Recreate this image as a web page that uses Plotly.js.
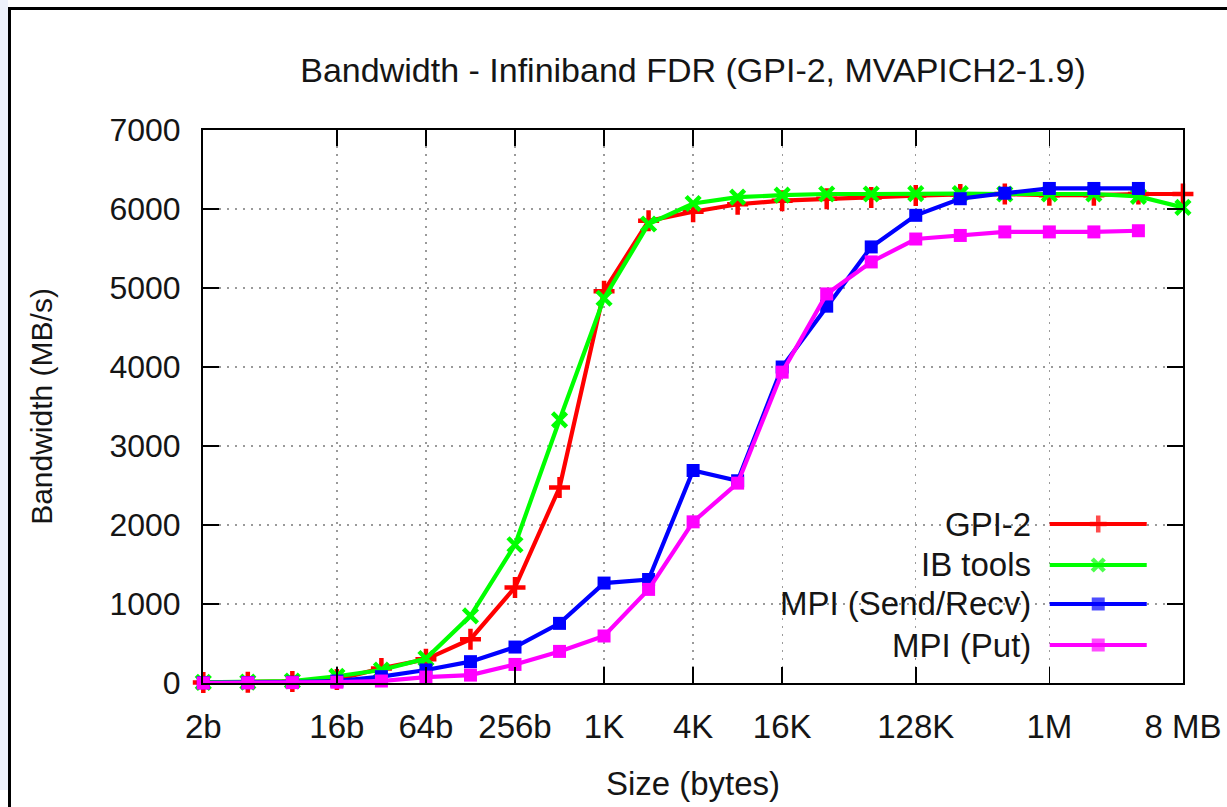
<!DOCTYPE html>
<html><head><meta charset="utf-8">
<script src="https://cdn.plot.ly/plotly-3.0.1.min.js"></script>
<style>
html,body{margin:0;padding:0;background:#fff;overflow:hidden;}
#wrap{position:relative;width:1227px;height:807px;}
#chart{position:absolute;left:0;top:0;width:1227px;height:807px;}
#strip{position:absolute;left:0;top:0;width:8px;height:790px;background:#eef2fb;}
#frame{position:absolute;left:8px;top:7px;width:1300px;height:900px;border-left:3px solid #000;border-top:3px solid #000;pointer-events:none;}
</style></head><body>
<div id="wrap"><div id="chart"></div><div id="strip"></div><div id="frame"></div></div>
<script>
// ---- data ----
const sizes = [2,4,8,16,32,64,128,256,512,1024,2048,4096,8192,16384,32768,65536,131072,262144,524288,1048576,2097152,4194304,8388608];
const gpi2 = [5,10,20,45,185,300,555,1210,2475,4960,5850,5965,6060,6105,6130,6145,6170,6185,6190,6175,6175,6190,6190];
const ibTools = [8,12,25,85,165,310,850,1750,3330,4870,5810,6070,6150,6175,6190,6190,6195,6195,6190,6190,6190,6160,6020];
const mpiSendRecv = [3,5,10,25,80,165,270,455,755,1265,1310,2690,2560,4000,4770,5520,5920,6130,6200,6260,6260,6260];
const mpiPut = [0,2,5,10,25,75,100,235,400,595,1185,2040,2530,3935,4925,5330,5620,5665,5710,5710,5710,5725];
const tickVals = [2,16,64,256,1024,4096,16384,131072,1048576,8388608];
const tickLabels = ['2b','16b','64b','256b','1K','4K','16K','128K','1M','8 MB'];
const seriesNames = ['GPI-2','IB tools','MPI (Send/Recv)','MPI (Put)'];
const yTicks = [0,1000,2000,3000,4000,5000,6000,7000];

// ---- styles ----
const FONT = 'Liberation Sans, Arial, Helvetica, sans-serif';
const colors = ['#ff0000','#00ff00','#0000ff','#ff00ff'];
const markers = [
  {symbol:'cross-thin', size:15, line:{width:4.5, color:colors[0]}, color:colors[0]},
  {symbol:'x-thin', size:14, line:{width:4.5, color:colors[1]}, color:colors[1]},
  {symbol:'square', size:13, line:{width:0}, color:colors[2]},
  {symbol:'square', size:13, line:{width:0}, color:colors[3]}
];
const keyMarkerSizes = [12, 12, 13, 13];
const seriesY = [gpi2, ibTools, mpiSendRecv, mpiPut];

const traces = seriesY.map((ys, i) => ({
  type:'scatter', mode:'lines+markers', name:seriesNames[i],
  x: sizes.slice(0, ys.length), y: ys,
  line:{color:colors[i], width:4.2},
  marker: markers[i],
  showlegend:false, cliponaxis:false, hoverinfo:'x+y'
}));

// custom gnuplot-style key (text left, sample right) on an overlay axis
const keyRowsY = [0.2875, 0.2134, 0.1429, 0.0687];
const keyX0 = 0.864, keyX1 = 0.963, keyXm = 0.9135, keyTextX = 0.847;
seriesNames.forEach((n, i) => {
  traces.push({
    type:'scatter', mode:'lines+markers', xaxis:'x2', yaxis:'y2',
    x:[keyX0, keyXm, keyX1], y:[keyRowsY[i], keyRowsY[i], keyRowsY[i]],
    line:{color:colors[i], width:4.2},
    marker: Object.assign({}, markers[i], {size:[0, keyMarkerSizes[i], 0]}),
    showlegend:false, hoverinfo:'skip'
  });
});

const annotations = seriesNames.map((n, i) => ({
  xref:'x2', yref:'y2', x:keyTextX, y:keyRowsY[i], text:n, showarrow:false,
  xanchor:'right', yanchor:'middle', font:{family:FONT, size:33, color:'#151515'}
}));

const axisCommon = {
  showline:true, linecolor:'#000', linewidth:2, mirror:'ticks',
  ticks:'inside', ticklen:16, tickwidth:1.5, tickcolor:'#000',
  showgrid:true, gridcolor:'#9a9a9a', gridwidth:1.3, griddash:'2px,6px',
  zeroline:false
};

const layout = {
  width:1227, height:807,
  margin:{l:203, r:44, t:130, b:124, pad:0},
  paper_bgcolor:'rgba(0,0,0,0)', plot_bgcolor:'#fff',
  title:{text:'Bandwidth - Infiniband FDR (GPI-2, MVAPICH2-1.9)', font:{family:FONT, size:34, color:'#151515'},
         xref:'paper', x:0.5, xanchor:'center', yref:'container', y:1-70/807, yanchor:'middle'},
  xaxis: Object.assign({}, axisCommon, {
    type:'log', range:[Math.log10(2) - 0.002, Math.log10(8388608) + 0.0005],
    tickmode:'array', tickvals:tickVals, ticktext:tickLabels, ticklabelstandoff:13,
    tickfont:{family:FONT, size:33, color:'#151515'},
    title:{text:'Size (bytes)', font:{family:FONT, size:33, color:'#151515'}, standoff:28}
  }),
  yaxis: Object.assign({}, axisCommon, {
    range:[0,7000], tickmode:'array', tickvals:yTicks, ticklabelstandoff:14,
    tickfont:{family:FONT, size:32, color:'#151515'},
    title:{text:'Bandwidth (MB/s)', font:{family:FONT, size:30, color:'#151515'}, standoff:48}
  }),
  xaxis2:{overlaying:'x', range:[0,1], visible:false, fixedrange:true},
  yaxis2:{overlaying:'y', range:[0,1], visible:false, fixedrange:true},
  shapes:[{type:'rect', xref:'paper', yref:'paper', x0:0.70, x1:0.975, y0:0.033, y1:0.317,
           fillcolor:'#fff', line:{width:0}, layer:'between'}],
  annotations: annotations
};

Plotly.newPlot('chart', traces, layout, {displayModeBar:false, staticPlot:true});
</script>
</body></html>
